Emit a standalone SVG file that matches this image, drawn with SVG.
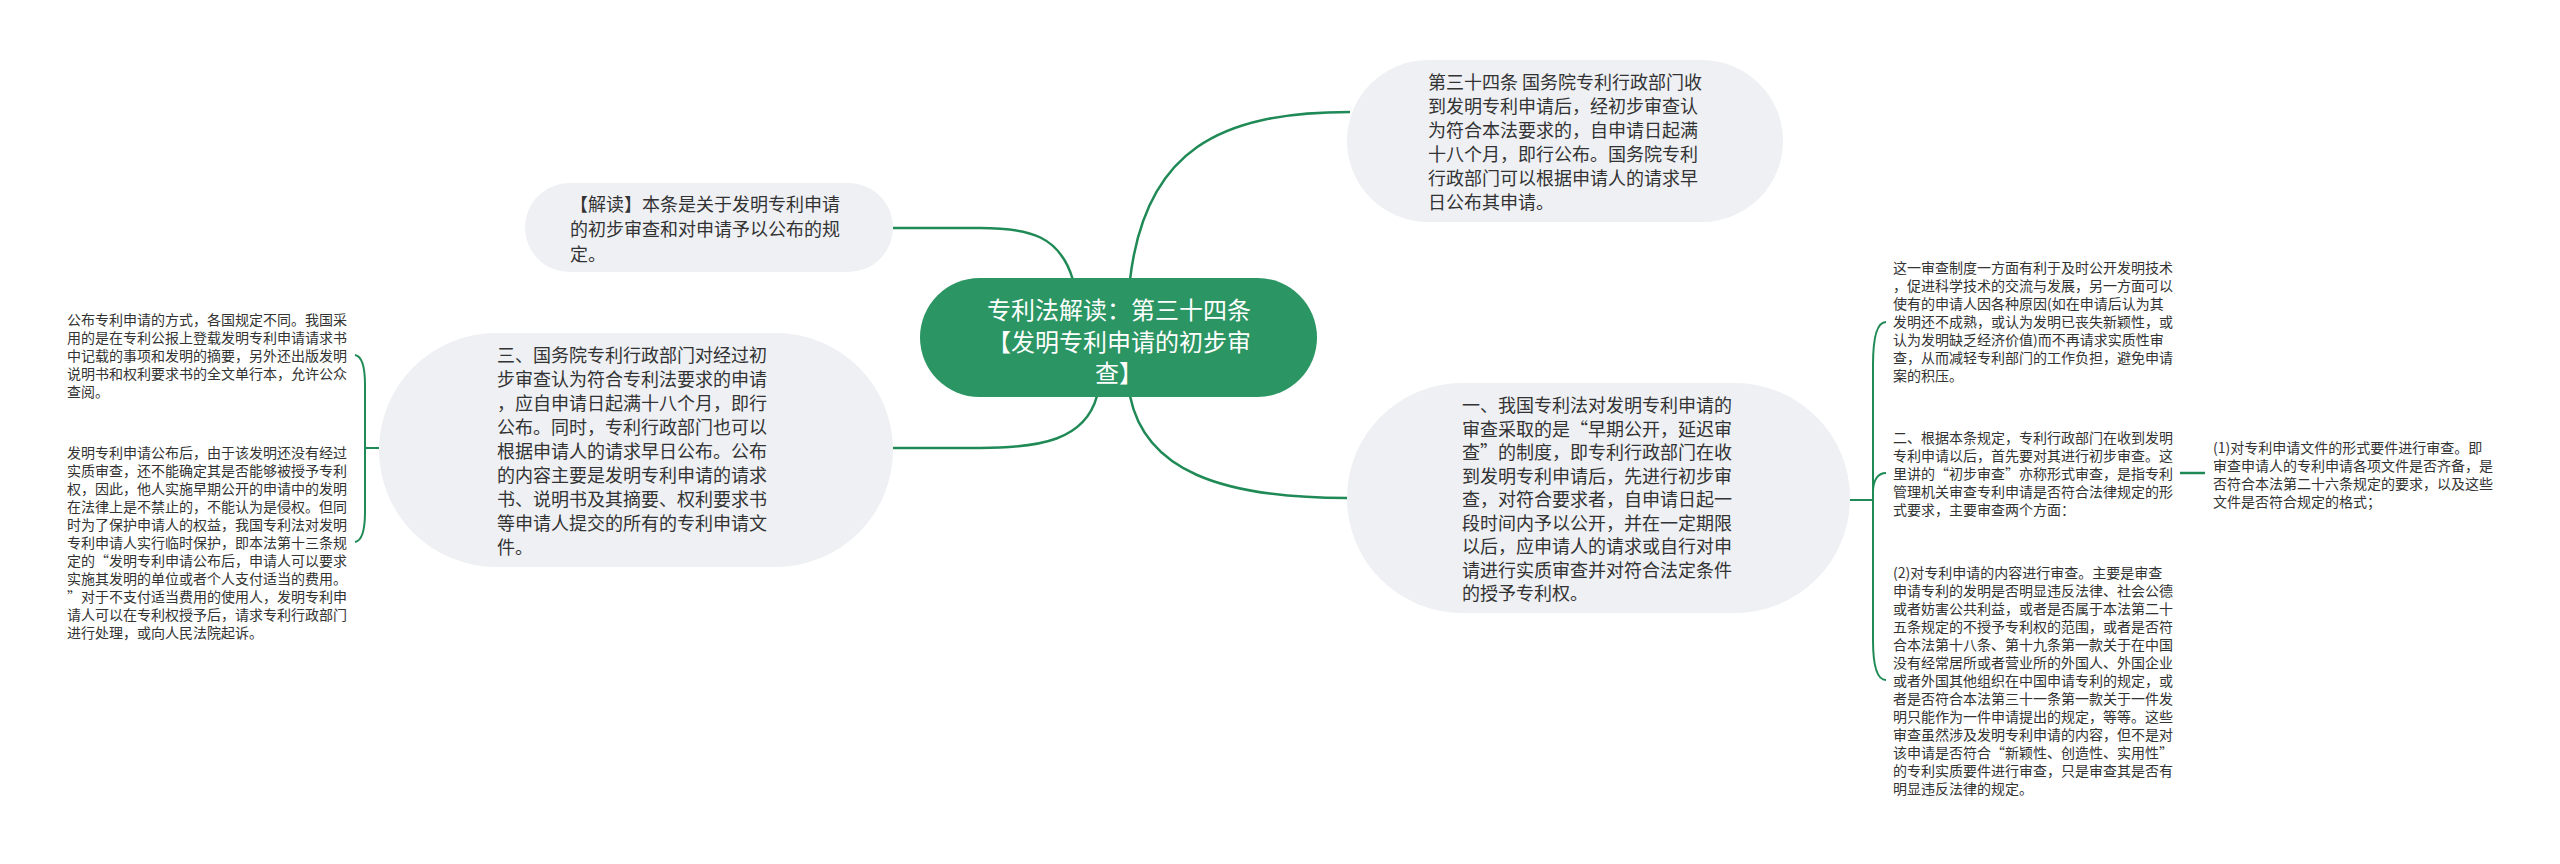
<svg xmlns="http://www.w3.org/2000/svg" width="2560" height="864" viewBox="0 0 2560 864">
<style>
.bg{fill:#ffffff}
.node{fill:#eef0f3}
.root{fill:#2b9563}
.t18{font-family:"Noto Sans CJK SC","Liberation Sans",sans-serif;font-size:18px;fill:#333333}
.t14{font-family:"Noto Sans CJK SC","Liberation Sans",sans-serif;font-size:14px;fill:#333333}
.tr{font-family:"Noto Sans CJK SC","Liberation Sans",sans-serif;font-size:24px;fill:#ffffff;text-anchor:middle}
.c{fill:none;stroke:#1f8a56;stroke-width:2.5}
.b{fill:none;stroke:#1f8a56;stroke-width:2}
</style>
<rect class="bg" x="0" y="0" width="2560" height="864"/>
<g id="connectors">
<path class="c" d="M1073,280 C1060,236 1030,228 980,228 L893,228"/>
<path class="c" d="M1130,280 C1145,150 1220,112 1350,112"/>
<path class="c" d="M1097,396 C1085,440 1040,448 980,448 L893,448"/>
<path class="c" d="M1130,396 C1145,470 1220,498 1347,498"/>
<path class="b" d="M379,448 H365"/>
<path class="b" d="M365,448 V385 C365,365 361,356 355,355"/>
<path class="b" d="M365,448 V512 C365,532 361,541 355,542"/>
<path class="b" d="M1850,500 H1873"/>
<path class="b" d="M1873,500 V365 C1873,335 1878,322 1886,322"/>
<path class="b" d="M1873,500 V492 C1873,480 1878,473 1886,473"/>
<path class="b" d="M1873,500 V640 C1873,670 1878,680 1886,680"/>
<path class="c" d="M2180,473 H2205"/>
</g>
<g id="root">
<rect class="root" x="920" y="278" width="397" height="119" rx="59.5"/>
<text class="tr" x="1119" y="319">专利法解读：第三十四条</text>
<text class="tr" x="1119" y="351">【发明专利申请的初步审</text>
<text class="tr" x="1119" y="382">查】</text>
</g>
<g id="n-article">
<rect class="node" x="1347" y="60" width="436" height="162" rx="81"/>
<text class="t18" x="1428" y="89">第三十四条 国务院专利行政部门收</text>
<text class="t18" x="1428" y="113">到发明专利申请后，经初步审查认</text>
<text class="t18" x="1428" y="137">为符合本法要求的，自申请日起满</text>
<text class="t18" x="1428" y="161">十八个月，即行公布。国务院专利</text>
<text class="t18" x="1428" y="185">行政部门可以根据申请人的请求早</text>
<text class="t18" x="1428" y="209">日公布其申请。</text>
</g>
<g id="n-jiedu">
<rect class="node" x="525" y="183" width="368" height="89" rx="44.5"/>
<text class="t18" x="570" y="211">【解读】本条是关于发明专利申请</text>
<text class="t18" x="570" y="236">的初步审查和对申请予以公布的规</text>
<text class="t18" x="570" y="261">定。</text>
</g>
<g id="n-san">
<rect class="node" x="379" y="333" width="514" height="234" rx="117"/>
<text class="t18" x="497" y="362">三、国务院专利行政部门对经过初</text>
<text class="t18" x="497" y="386">步审查认为符合专利法要求的申请</text>
<text class="t18" x="497" y="410">，应自申请日起满十八个月，即行</text>
<text class="t18" x="497" y="434">公布。同时，专利行政部门也可以</text>
<text class="t18" x="497" y="458">根据申请人的请求早日公布。公布</text>
<text class="t18" x="497" y="482">的内容主要是发明专利申请的请求</text>
<text class="t18" x="497" y="506">书、说明书及其摘要、权利要求书</text>
<text class="t18" x="497" y="530">等申请人提交的所有的专利申请文</text>
<text class="t18" x="497" y="554">件。</text>
</g>
<g id="n-left1">
<text class="t14" x="67" y="325">公布专利申请的方式，各国规定不同。我国采</text>
<text class="t14" x="67" y="343">用的是在专利公报上登载发明专利申请请求书</text>
<text class="t14" x="67" y="361">中记载的事项和发明的摘要，另外还出版发明</text>
<text class="t14" x="67" y="379">说明书和权利要求书的全文单行本，允许公众</text>
<text class="t14" x="67" y="397">查阅。</text>
</g>
<g id="n-left2">
<text class="t14" x="67" y="458">发明专利申请公布后，由于该发明还没有经过</text>
<text class="t14" x="67" y="476">实质审查，还不能确定其是否能够被授予专利</text>
<text class="t14" x="67" y="494">权，因此，他人实施早期公开的申请中的发明</text>
<text class="t14" x="67" y="512">在法律上是不禁止的，不能认为是侵权。但同</text>
<text class="t14" x="67" y="530">时为了保护申请人的权益，我国专利法对发明</text>
<text class="t14" x="67" y="548">专利申请人实行临时保护，即本法第十三条规</text>
<text class="t14" x="67" y="566">定的“发明专利申请公布后，申请人可以要求</text>
<text class="t14" x="67" y="584">实施其发明的单位或者个人支付适当的费用。</text>
<text class="t14" x="67" y="602">”对于不支付适当费用的使用人，发明专利申</text>
<text class="t14" x="67" y="620">请人可以在专利权授予后，请求专利行政部门</text>
<text class="t14" x="67" y="638">进行处理，或向人民法院起诉。</text>
</g>
<g id="n-yi">
<rect class="node" x="1347" y="383" width="503" height="230" rx="115"/>
<text class="t18" x="1462" y="412">一、我国专利法对发明专利申请的</text>
<text class="t18" x="1462" y="435.5">审查采取的是“早期公开，延迟审</text>
<text class="t18" x="1462" y="459">查”的制度，即专利行政部门在收</text>
<text class="t18" x="1462" y="482.5">到发明专利申请后，先进行初步审</text>
<text class="t18" x="1462" y="506">查，对符合要求者，自申请日起一</text>
<text class="t18" x="1462" y="529.5">段时间内予以公开，并在一定期限</text>
<text class="t18" x="1462" y="553">以后，应申请人的请求或自行对申</text>
<text class="t18" x="1462" y="576.5">请进行实质审查并对符合法定条件</text>
<text class="t18" x="1462" y="600">的授予专利权。</text>
</g>
<g id="n-right1">
<text class="t14" x="1893" y="273">这一审查制度一方面有利于及时公开发明技术</text>
<text class="t14" x="1893" y="291">，促进科学技术的交流与发展，另一方面可以</text>
<text class="t14" x="1893" y="309">使有的申请人因各种原因(如在申请后认为其</text>
<text class="t14" x="1893" y="327">发明还不成熟，或认为发明已丧失新颖性，或</text>
<text class="t14" x="1893" y="345">认为发明缺乏经济价值)而不再请求实质性审</text>
<text class="t14" x="1893" y="363">查，从而减轻专利部门的工作负担，避免申请</text>
<text class="t14" x="1893" y="381">案的积压。</text>
</g>
<g id="n-right2">
<text class="t14" x="1893" y="443">二、根据本条规定，专利行政部门在收到发明</text>
<text class="t14" x="1893" y="461">专利申请以后，首先要对其进行初步审查。这</text>
<text class="t14" x="1893" y="479">里讲的“初步审查”亦称形式审查，是指专利</text>
<text class="t14" x="1893" y="497">管理机关审查专利申请是否符合法律规定的形</text>
<text class="t14" x="1893" y="515">式要求，主要审查两个方面：</text>
</g>
<g id="n-right2-1">
<text class="t14" x="2213" y="453">(1)对专利申请文件的形式要件进行审查。即</text>
<text class="t14" x="2213" y="471">审查申请人的专利申请各项文件是否齐备，是</text>
<text class="t14" x="2213" y="489">否符合本法第二十六条规定的要求，以及这些</text>
<text class="t14" x="2213" y="507">文件是否符合规定的格式；</text>
</g>
<g id="n-right3">
<text class="t14" x="1893" y="578">(2)对专利申请的内容进行审查。主要是审查</text>
<text class="t14" x="1893" y="596">申请专利的发明是否明显违反法律、社会公德</text>
<text class="t14" x="1893" y="614">或者妨害公共利益，或者是否属于本法第二十</text>
<text class="t14" x="1893" y="632">五条规定的不授予专利权的范围，或者是否符</text>
<text class="t14" x="1893" y="650">合本法第十八条、第十九条第一款关于在中国</text>
<text class="t14" x="1893" y="668">没有经常居所或者营业所的外国人、外国企业</text>
<text class="t14" x="1893" y="686">或者外国其他组织在中国申请专利的规定，或</text>
<text class="t14" x="1893" y="704">者是否符合本法第三十一条第一款关于一件发</text>
<text class="t14" x="1893" y="722">明只能作为一件申请提出的规定，等等。这些</text>
<text class="t14" x="1893" y="740">审查虽然涉及发明专利申请的内容，但不是对</text>
<text class="t14" x="1893" y="758">该申请是否符合“新颖性、创造性、实用性”</text>
<text class="t14" x="1893" y="776">的专利实质要件进行审查，只是审查其是否有</text>
<text class="t14" x="1893" y="794">明显违反法律的规定。</text>
</g>
</svg>
